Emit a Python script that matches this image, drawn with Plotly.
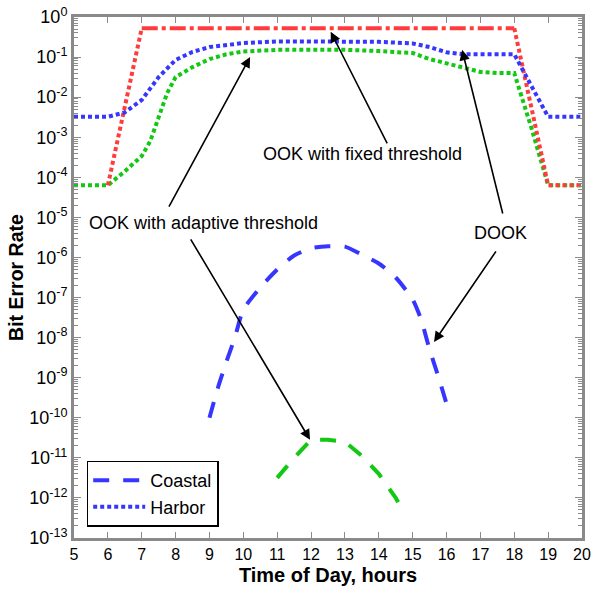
import plotly.graph_objects as go

# ---------------- data (log10 of BER) ----------------
# Harbor (dotted)
harbor_dook_t = [5, 6, 6.5, 7, 7.5, 8, 8.5, 9, 10, 11, 12, 13, 14, 15, 15.5, 16, 16.5, 17, 18, 19, 20]
harbor_dook_log = [-2.49, -2.49, -2.38, -2.07, -1.5, -1.07, -0.87, -0.75, -0.65, -0.61, -0.61, -0.61, -0.62,
                   -0.66, -0.75, -0.88, -0.93, -0.93, -0.93, -2.49, -2.49]

harbor_adapt_t = [5, 6, 6.5, 7, 7.25, 7.5, 7.75, 8, 8.5, 9, 9.5, 10, 11, 12, 13, 14, 15, 15.5, 16, 16.5, 17, 17.5, 18, 18.5, 19, 20]
harbor_adapt_log = [-4.2, -4.2, -3.85, -3.47, -3.1, -2.5, -1.9, -1.5, -1.25, -1.05, -0.93, -0.86, -0.82, -0.82,
                    -0.82, -0.85, -0.9, -1.05, -1.15, -1.25, -1.37, -1.4, -1.4, -2.75, -4.2, -4.2]

fixed_rise_t = [6, 7]
fixed_rise_log = [-4.2, -0.28]
fixed_flat_t = [7, 18]
fixed_flat_log = [-0.28, -0.28]
fixed_fall_t = [18, 19, 20]
fixed_fall_log = [-0.28, -4.2, -4.2]

# Coastal (dashed)
coastal_dook_t = [9, 9.25, 9.5, 9.75, 10, 10.5, 11, 11.5, 12, 12.5, 13, 13.5, 14, 14.5, 15, 15.25, 15.5, 15.75, 16]
coastal_dook_log = [-10.0, -9.25, -8.6, -8.0, -7.3, -6.75, -6.3, -5.95, -5.77, -5.72, -5.73, -5.93, -6.15,
                    -6.5, -7.05, -7.55, -8.3, -8.95, -9.65]

coastal_adapt_t = [11, 11.5, 12, 12.5, 13, 13.5, 14, 14.5, 14.75]
coastal_adapt_log = [-11.5, -11.0, -10.55, -10.55, -10.6, -10.95, -11.4, -12.0, -12.37]

ytick_exp = list(range(0, -14, -1))
xtick_vals = list(range(5, 21))

RED = "#ff3c3c"
BLUE = "#3636ff"
GREEN = "#12c812"
GRAY = "#8a8a8a"
FONT = "Liberation Sans, Arial, Helvetica, sans-serif"

def tv(logs):
    return [10 ** v for v in logs]

fig = go.Figure()

DOT = "4px,3px"
DASH = "16px,14px"
DASHDOT = "16px,4px,4px,4px"

fig.add_trace(go.Scatter(x=harbor_adapt_t, y=tv(harbor_adapt_log), mode="lines",
                         line=dict(color=GREEN, width=4, dash=DOT), showlegend=False))
fig.add_trace(go.Scatter(x=fixed_rise_t, y=tv(fixed_rise_log), mode="lines",
                         line=dict(color=RED, width=4, dash=DOT), showlegend=False))
fig.add_trace(go.Scatter(x=fixed_flat_t, y=tv(fixed_flat_log), mode="lines",
                         line=dict(color=RED, width=4, dash=DASHDOT), showlegend=False))
fig.add_trace(go.Scatter(x=fixed_fall_t, y=tv(fixed_fall_log), mode="lines",
                         line=dict(color=RED, width=4, dash=DOT), showlegend=False))
fig.add_trace(go.Scatter(x=coastal_dook_t, y=tv(coastal_dook_log), mode="lines", name="Coastal",
                         line=dict(color=BLUE, width=4, dash=DASH, shape="spline", smoothing=0.6)))
fig.add_trace(go.Scatter(x=harbor_dook_t, y=tv(harbor_dook_log), mode="lines", name="Harbor",
                         line=dict(color=BLUE, width=4, dash=DOT)))
fig.add_trace(go.Scatter(x=coastal_adapt_t, y=tv(coastal_adapt_log), mode="lines",
                         line=dict(color=GREEN, width=4, dash=DASH), showlegend=False))

# annotations: text labels
texts = [
    ("OOK with fixed threshold", 13.53, -3.42),
    ("OOK with adaptive threshold", 8.81, -5.14),
    ("DOOK", 17.6, -5.39),
]
for t, x, y in texts:
    fig.add_annotation(x=x, y=y, xref="x", yref="y", text=t, showarrow=False,
                       font=dict(family=FONT, size=18, color="black"))

# arrows: (tail_x, tail_y, tip_x, tip_y)
arrows = [
    (14.27, -3.19, 12.58, -0.37),
    (7.78, -4.77, 10.2, -1.0),
    (8.42, -5.51, 11.97, -10.55),
    (17.67, -4.94, 16.46, -0.82),
    (17.49, -5.81, 15.63, -8.11),
]
for tx, ty, hx, hy in arrows:
    fig.add_annotation(x=hx, y=hy, ax=tx, ay=ty, xref="x", yref="y", axref="x", ayref="y",
                       text="", showarrow=True, arrowhead=2, arrowsize=1.3, arrowwidth=1.6,
                       arrowcolor="black")

minor_vals = [m * 10.0 ** e for e in range(-13, 0) for m in range(2, 10)]

fig.update_layout(
    width=593, height=594,
    margin=dict(l=74, r=11, t=17, b=56, autoexpand=False),
    paper_bgcolor="white", plot_bgcolor="white",
    font=dict(family=FONT, size=16, color="black"),
    showlegend=True,
    legend=dict(x=0.025, y=0.022, xanchor="left", yanchor="bottom",
                bordercolor="black", borderwidth=1.5, bgcolor="white", itemwidth=52,
                font=dict(family=FONT, size=18), tracegroupgap=0),
    xaxis=dict(range=[5, 20], tickmode="array", tickvals=xtick_vals, automargin=False,
               ticks="inside", ticklen=6, tickcolor=GRAY, tickwidth=1,
               showline=True, linecolor=GRAY, linewidth=3, mirror="allticks",
               showgrid=False, zeroline=False, ticklabeloverflow="allow",
               tickfont=dict(family=FONT, size=16),
               title=dict(text="<b>Time of Day, hours</b>", font=dict(family=FONT, size=20), standoff=6)),
    yaxis=dict(type="log", range=[-13, 0], tickmode="array", automargin=False,
               tickvals=[10.0 ** e for e in ytick_exp],
               ticktext=["10<sup>%d</sup>" % e for e in ytick_exp],
               ticks="inside", ticklen=7, tickcolor=GRAY, tickwidth=1,
               minor=dict(tickmode="array", tickvals=minor_vals, ticks="inside", ticklen=4,
                          tickcolor=GRAY, tickwidth=1, showgrid=False),
               showline=True, linecolor=GRAY, linewidth=3, mirror="allticks",
               showgrid=False, zeroline=False, ticklabeloverflow="allow",
               tickfont=dict(family=FONT, size=18),
               title=dict(text="<b>Bit Error Rate</b>", font=dict(family=FONT, size=19.5), standoff=1)),
)

fig.write_html("out.html", config={"displayModeBar": False},
               post_script="document.body.style.margin='0';")
